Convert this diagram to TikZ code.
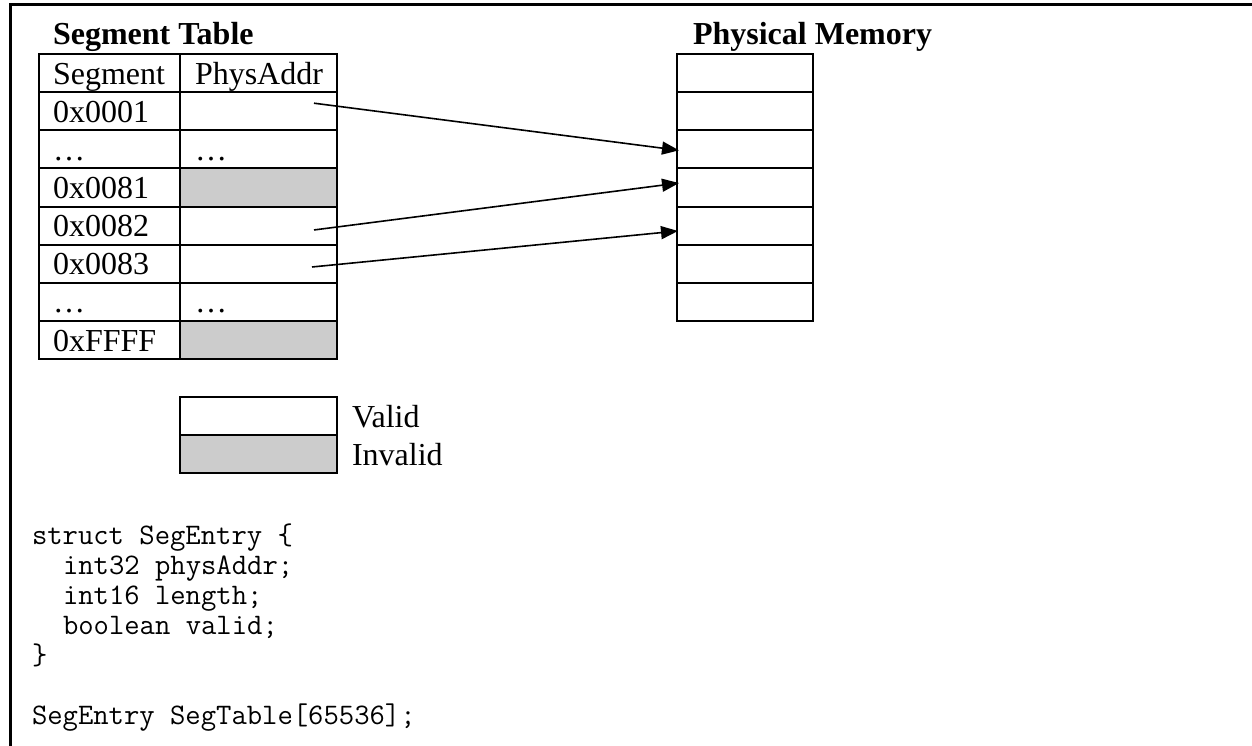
\documentclass[tikz,border=0pt]{standalone}
\usepackage{fontspec}
\setmainfont{Liberation Serif}
\usetikzlibrary{arrows.meta,calc}
\definecolor{cellgray}{RGB}{204,204,204}
\begin{document}
\begin{tikzpicture}[x=1pt,y=-1pt,
  cell/.style={draw, line width=2pt, minimum width=#1, minimum height=38.125pt,
    anchor=north west, inner sep=0pt, outer sep=0pt},
  txt/.style={anchor=base west, inner sep=0pt, outer sep=0pt, font=\fontsize{32}{38}\selectfont},
  ttl/.style={txt, font=\fontsize{32}{38}\selectfont\bfseries},
  code/.style={anchor=base west, inner sep=0pt, outer sep=0pt, font=\fontsize{29.8}{30}\selectfont\ttfamily},
  arr/.style={line width=1.6pt, -{Triangle[length=17pt,width=13pt]}},
  frame/.style={line width=3pt}]
\useasboundingbox (0,0) rectangle (1252,746);
\fill[white] (0,0) rectangle (1252,746);
% frame
\coordinate (ftr) at (1252,5);
\coordinate (ftl) at (10,5);
\coordinate (fbl) at (10,746);
\draw[frame] (ftr) -- (ftl) -- (fbl);
% titles
\node[ttl] (segtitle) at (53,45) {Segment Table};
\node[ttl] (memtitle) at (693,45) {Physical Memory};
% segment table
\foreach \r/\a/\b/\f in {0/Segment/PhysAddr/white,1/0x0001//white,2/…/…/white,3/0x0081//cellgray,4/0x0082//white,5/0x0083//white,6/…/…/white,7/0xFFFF//cellgray}{
  \node[cell=141, fill=white] (s\r) at (39,{54+38.125*\r}) {};
  \node[cell=157, fill=\f] (p\r) at (180,{54+38.125*\r}) {};
  \node[txt] (st\r) at ($(s\r.south west)+(14,-8)$) {\a};
  \node[txt] (pt\r) at ($(p\r.south west)+(15,-8)$) {\b};
}
% physical memory
\foreach \r in {0,...,6}{
  \node[cell=136, fill=white] (m\r) at (677,{54+38.125*\r}) {};
}
% arrows
\draw[arr] ($(p1.east)+(-23,-8)$) -- ($(m2.west)+(2,1)$);
\draw[arr] ($(p4.east)+(-23,4.4)$) -- ($(m3.west)+(2,-4.4)$);
\draw[arr] ($(p5.east)+(-25,3.3)$) -- ($(m4.west)+(1,5.4)$);
% legend
\node[cell=157, fill=white] (lv) at (180,397) {};
\node[cell=157, fill=cellgray] (li) at (180,435) {};
\node[txt] (lvt) at (352,427) {Valid};
\node[txt] (lit) at (352,465) {Invalid};
% code
\node[code] (c1) at (32,544) {struct SegEntry \{};
\node[code] (c2) at (63,574) {int32 physAddr;};
\node[code] (c3) at (63,604) {int16 length;};
\node[code] (c4) at (63,634) {boolean valid;};
\node[code] (c5) at (32,664) {\}};
\node[code] (c6) at (32,724) {SegEntry SegTable[65536];};
\end{tikzpicture}
\end{document}
